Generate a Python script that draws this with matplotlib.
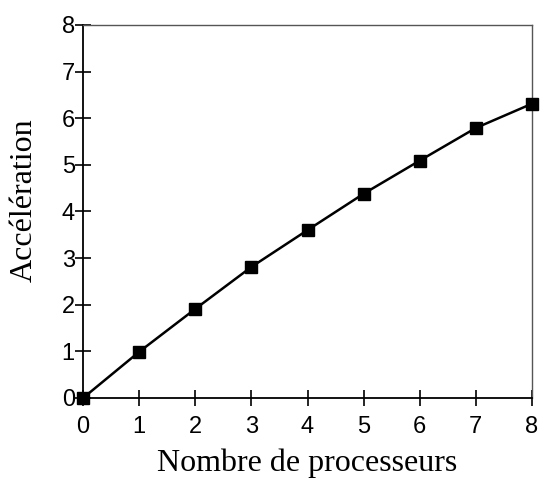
import matplotlib
matplotlib.use("Agg")
import matplotlib.pyplot as plt

processors = [0, 1, 2, 3, 4, 5, 6, 7, 8]
speedup = [0.0, 0.99, 1.91, 2.81, 3.60, 4.38, 5.09, 5.79, 6.31]
xticks = [0, 1, 2, 3, 4, 5, 6, 7, 8]
yticks = [0, 1, 2, 3, 4, 5, 6, 7, 8]

fig = plt.figure(figsize=(5.4, 4.8), dpi=100)
ax = fig.add_axes([0.154, 0.171, 0.831, 0.777])
ax.plot(processors, speedup, color="black", lw=1.8, marker="s", markersize=8,
        clip_on=False, zorder=5)
ax.set_xlim(0, 8)
ax.set_ylim(0, 8)
ax.set_xticks(xticks)
ax.set_yticks(yticks)
ax.set_xticklabels([str(t) for t in xticks], family="Liberation Sans", fontsize=17)
ax.set_yticklabels([str(t) for t in yticks], family="Liberation Sans", fontsize=17)
ax.tick_params(axis="x", direction="inout", length=12, width=1.2, pad=7, color="black")
ax.tick_params(axis="y", direction="inout", length=12, width=1.2, pad=0, color="black")
for s in ["left", "bottom"]:
    ax.spines[s].set_linewidth(1.3)
    ax.spines[s].set_color("black")
for s in ["top", "right"]:
    ax.spines[s].set_linewidth(1.0)
    ax.spines[s].set_color("#555555")
ax.set_xlabel("Nombre de processeurs", family="Liberation Serif", fontsize=23)
ax.set_ylabel("Accélération", family="Liberation Serif", fontsize=23)
ax.xaxis.set_label_coords(0.5, -0.135)
ax.yaxis.set_label_coords(-0.100, 0.531)
fig.savefig("out.png", dpi=100)
